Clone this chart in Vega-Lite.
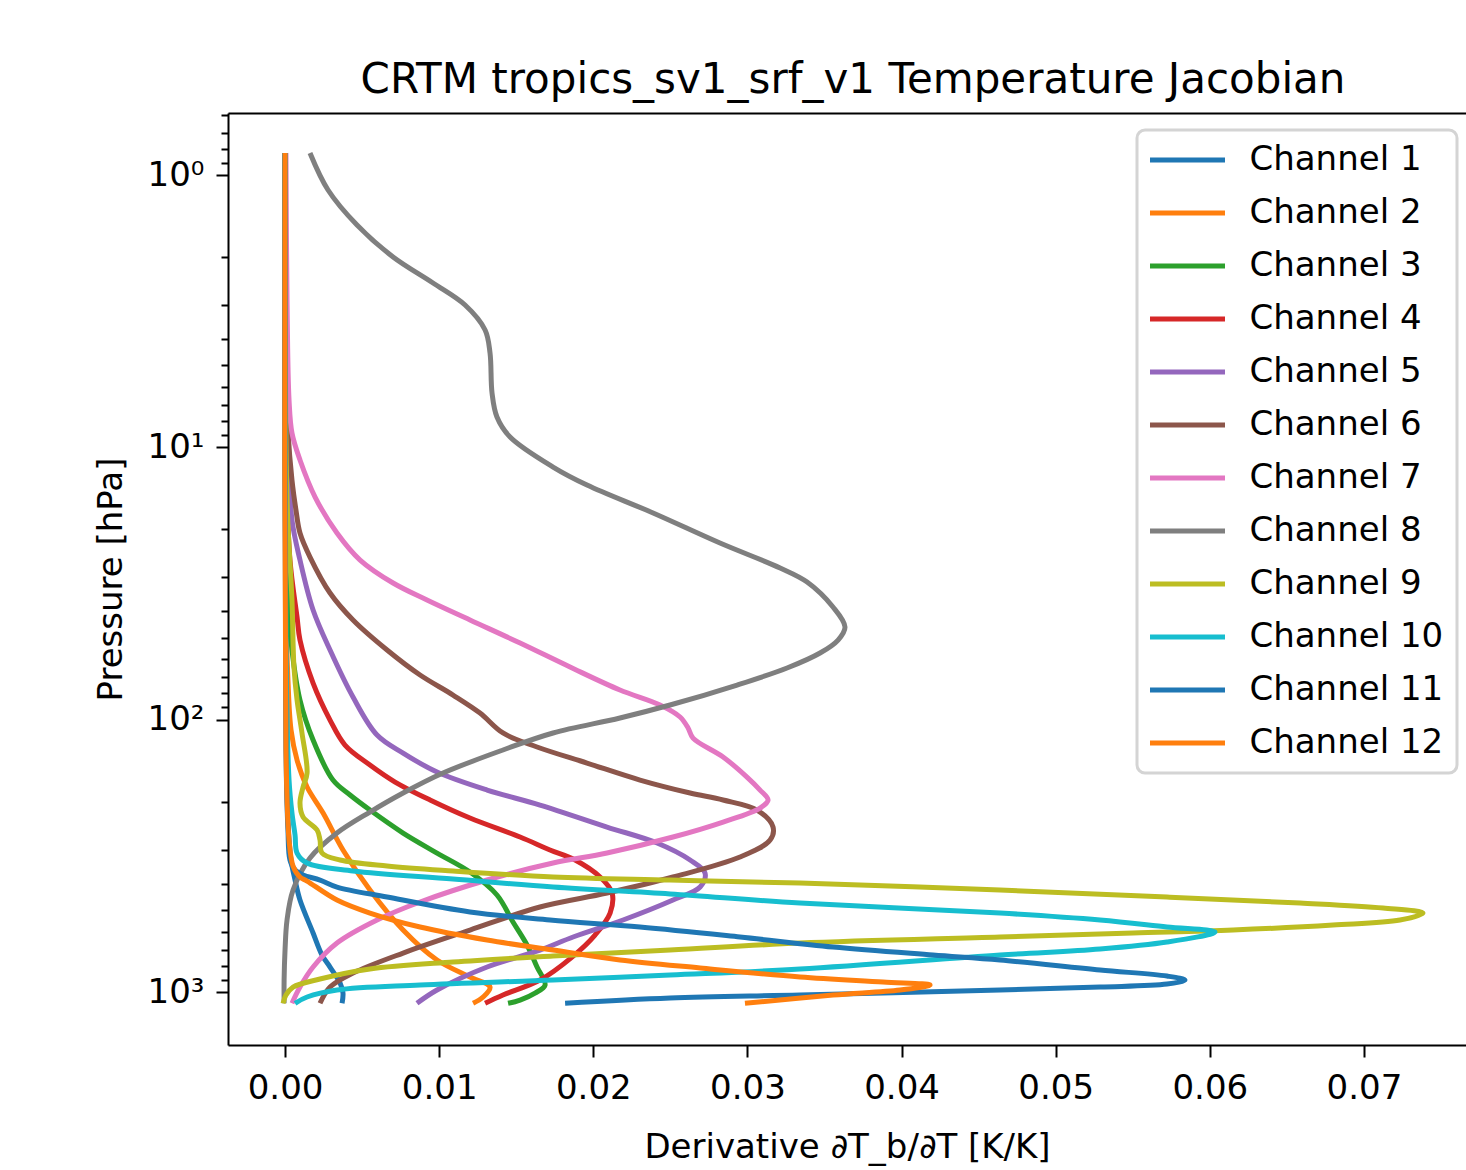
{
"$schema": "https://vega.github.io/schema/vega-lite/v6.json",
"width": 1238, "height": 932,
"autosize": "none",
"padding": {"left": 228, "top": 113, "right": 0, "bottom": 125},
"background": "white",
"title": {"text": "CRTM tropics_sv1_srf_v1 Temperature Jacobian", "fontSize": 42, "font": "DejaVu Sans", "fontWeight": "normal", "color": "black", "anchor": "middle", "dx": 6, "offset": -37, "baseline": "alphabetic"},
"data": {"values": [
{"c":"Channel 1","x":0,"p":0.83},{"c":"Channel 1","x":0.00006,"p":84.68},{"c":"Channel 1","x":0.00019,"p":233.6},{"c":"Channel 1","x":0.00039,"p":327.6},{"c":"Channel 1","x":0.00065,"p":387.9},{"c":"Channel 1","x":0.00097,"p":459.4},{"c":"Channel 1","x":0.00182,"p":607.2},{"c":"Channel 1","x":0.0024,"p":731.5},{"c":"Channel 1","x":0.00292,"p":809.5},{"c":"Channel 1","x":0.00357,"p":926.8},{"c":"Channel 1","x":0.00376,"p":1008.6},{"c":"Channel 1","x":0.0037,"p":1100},
{"c":"Channel 2","x":0,"p":0.83},{"c":"Channel 2","x":0.00006,"p":36.36},{"c":"Channel 2","x":0.00019,"p":71.51},{"c":"Channel 2","x":0.00039,"p":109.1},{"c":"Channel 2","x":0.00078,"p":140.7},{"c":"Channel 2","x":0.00143,"p":176.7},{"c":"Channel 2","x":0.00247,"p":220.2},{"c":"Channel 2","x":0.00376,"p":301.0},{"c":"Channel 2","x":0.00551,"p":422.1},{"c":"Channel 2","x":0.00766,"p":592.0},{"c":"Channel 2","x":0.00986,"p":763.0},{"c":"Channel 2","x":0.012,"p":880.9},{"c":"Channel 2","x":0.0133,"p":958.7},{"c":"Channel 2","x":0.01285,"p":1043.2},{"c":"Channel 2","x":0.0122,"p":1100},
{"c":"Channel 3","x":0,"p":0.83},{"c":"Channel 3","x":0.00006,"p":15.61},{"c":"Channel 3","x":0.00019,"p":36.36},{"c":"Channel 3","x":0.00045,"p":55.49},{"c":"Channel 3","x":0.00097,"p":84.68},{"c":"Channel 3","x":0.00182,"p":118.8},{"c":"Channel 3","x":0.00311,"p":166.6},{"c":"Channel 3","x":0.00422,"p":189.1},{"c":"Channel 3","x":0.00551,"p":214.7},{"c":"Channel 3","x":0.00766,"p":260.8},{"c":"Channel 3","x":0.00986,"p":308.8},{"c":"Channel 3","x":0.012,"p":362.6},{"c":"Channel 3","x":0.01375,"p":440.3},{"c":"Channel 3","x":0.01479,"p":553.3},{"c":"Channel 3","x":0.0157,"p":672.1},{"c":"Channel 3","x":0.01635,"p":809.5},{"c":"Channel 3","x":0.01687,"p":942.6},{"c":"Channel 3","x":0.01622,"p":1008.6},{"c":"Channel 3","x":0.01525,"p":1070},{"c":"Channel 3","x":0.01447,"p":1100},
{"c":"Channel 4","x":0,"p":0.83},{"c":"Channel 4","x":0.00006,"p":10.23},{"c":"Channel 4","x":0.00032,"p":25.93},{"c":"Channel 4","x":0.00078,"p":41.98},{"c":"Channel 4","x":0.00097,"p":50.99},{"c":"Channel 4","x":0.00182,"p":73.36},{"c":"Channel 4","x":0.00292,"p":100.3},{"c":"Channel 4","x":0.00389,"p":123.9},{"c":"Channel 4","x":0.00551,"p":146.7},{"c":"Channel 4","x":0.00714,"p":169.4},{"c":"Channel 4","x":0.00941,"p":197.2},{"c":"Channel 4","x":0.012,"p":229.7},{"c":"Channel 4","x":0.01525,"p":269.7},{"c":"Channel 4","x":0.01719,"p":301.0},{"c":"Channel 4","x":0.01882,"p":327.6},{"c":"Channel 4","x":0.02044,"p":378.2},{"c":"Channel 4","x":0.02122,"p":433.0},{"c":"Channel 4","x":0.02109,"p":512.8},{"c":"Channel 4","x":0.02011,"p":617.6},{"c":"Channel 4","x":0.01862,"p":744.0},{"c":"Channel 4","x":0.01654,"p":903.6},{"c":"Channel 4","x":0.01414,"p":1025.7},{"c":"Channel 4","x":0.01298,"p":1100},
{"c":"Channel 5","x":0,"p":0.83},{"c":"Channel 5","x":0.00006,"p":5.659},{"c":"Channel 5","x":0.00026,"p":11.13},{"c":"Channel 5","x":0.00045,"p":18.49},{"c":"Channel 5","x":0.00097,"p":25.93},{"c":"Channel 5","x":0.00182,"p":39.57},{"c":"Channel 5","x":0.00292,"p":55.49},{"c":"Channel 5","x":0.00441,"p":82.56},{"c":"Channel 5","x":0.00597,"p":113.8},{"c":"Channel 5","x":0.00766,"p":132.6},{"c":"Channel 5","x":0.00986,"p":155.7},{"c":"Channel 5","x":0.01311,"p":181.3},{"c":"Channel 5","x":0.01654,"p":205.8},{"c":"Channel 5","x":0.02089,"p":247.8},{"c":"Channel 5","x":0.02414,"p":283.8},{"c":"Channel 5","x":0.02628,"p":327.6},{"c":"Channel 5","x":0.02725,"p":365.6},{"c":"Channel 5","x":0.02693,"p":411.6},{"c":"Channel 5","x":0.02517,"p":459.4},{"c":"Channel 5","x":0.02193,"p":544.0},{"c":"Channel 5","x":0.01869,"p":628.1},{"c":"Channel 5","x":0.01654,"p":701.2},{"c":"Channel 5","x":0.01311,"p":809.5},{"c":"Channel 5","x":0.00986,"p":983.3},{"c":"Channel 5","x":0.00856,"p":1100},
{"c":"Channel 6","x":0,"p":0.83},{"c":"Channel 6","x":0.00006,"p":4.391},{"c":"Channel 6","x":0.00019,"p":8.637},{"c":"Channel 6","x":0.00045,"p":13.18},{"c":"Channel 6","x":0.00071,"p":16.99},{"c":"Channel 6","x":0.00097,"p":20.63},{"c":"Channel 6","x":0.00162,"p":25.28},{"c":"Channel 6","x":0.00292,"p":34.27},{"c":"Channel 6","x":0.00441,"p":43.05},{"c":"Channel 6","x":0.00662,"p":55.49},{"c":"Channel 6","x":0.00876,"p":68.55},{"c":"Channel 6","x":0.0109,"p":81.18},{"c":"Channel 6","x":0.01265,"p":94.53},{"c":"Channel 6","x":0.01414,"p":111.9},{"c":"Channel 6","x":0.01635,"p":126.0},{"c":"Channel 6","x":0.01959,"p":144.3},{"c":"Channel 6","x":0.02303,"p":166.6},{"c":"Channel 6","x":0.02628,"p":185.9},{"c":"Channel 6","x":0.02842,"p":197.2},{"c":"Channel 6","x":0.03062,"p":214.7},{"c":"Channel 6","x":0.03166,"p":247.8},{"c":"Channel 6","x":0.03147,"p":276.7},{"c":"Channel 6","x":0.02952,"p":319.4},{"c":"Channel 6","x":0.02517,"p":378.2},{"c":"Channel 6","x":0.02089,"p":433.0},{"c":"Channel 6","x":0.01654,"p":487.3},{"c":"Channel 6","x":0.012,"p":592.0},{"c":"Channel 6","x":0.00766,"p":719.2},{"c":"Channel 6","x":0.00441,"p":851.7},{"c":"Channel 6","x":0.00292,"p":958.7},{"c":"Channel 6","x":0.00227,"p":1100},
{"c":"Channel 7","x":0.00006,"p":0.83},{"c":"Channel 7","x":0.00013,"p":2.877},{"c":"Channel 7","x":0.00026,"p":6.702},{"c":"Channel 7","x":0.00045,"p":8.859},{"c":"Channel 7","x":0.00097,"p":11.13},{"c":"Channel 7","x":0.00195,"p":15.22},{"c":"Channel 7","x":0.00337,"p":20.63},{"c":"Channel 7","x":0.00487,"p":25.93},{"c":"Channel 7","x":0.00701,"p":31.49},{"c":"Channel 7","x":0.00921,"p":36.36},{"c":"Channel 7","x":0.012,"p":43.05},{"c":"Channel 7","x":0.01525,"p":52.3},{"c":"Channel 7","x":0.01849,"p":64.07},{"c":"Channel 7","x":0.02173,"p":77.82},{"c":"Channel 7","x":0.02433,"p":88.34},{"c":"Channel 7","x":0.02563,"p":97.77},{"c":"Channel 7","x":0.02615,"p":107.3},{"c":"Channel 7","x":0.02647,"p":116.8},{"c":"Channel 7","x":0.02842,"p":137.1},{"c":"Channel 7","x":0.02997,"p":162.4},{"c":"Channel 7","x":0.03082,"p":181.3},{"c":"Channel 7","x":0.03134,"p":197.2},{"c":"Channel 7","x":0.03082,"p":211.1},{"c":"Channel 7","x":0.02842,"p":237.6},{"c":"Channel 7","x":0.02517,"p":269.7},{"c":"Channel 7","x":0.02089,"p":308.8},{"c":"Channel 7","x":0.01739,"p":336.0},{"c":"Channel 7","x":0.01311,"p":387.9},{"c":"Channel 7","x":0.00876,"p":467.2},{"c":"Channel 7","x":0.00597,"p":544.0},{"c":"Channel 7","x":0.00337,"p":660.9},{"c":"Channel 7","x":0.00182,"p":809.5},{"c":"Channel 7","x":0.00097,"p":958.7},{"c":"Channel 7","x":0.00045,"p":1100},
{"c":"Channel 8","x":0.00162,"p":0.83},{"c":"Channel 8","x":0.00279,"p":1.135},{"c":"Channel 8","x":0.00467,"p":1.526},{"c":"Channel 8","x":0.00701,"p":2.0},{"c":"Channel 8","x":0.0096,"p":2.492},{"c":"Channel 8","x":0.01168,"p":3.002},{"c":"Channel 8","x":0.01298,"p":3.708},{"c":"Channel 8","x":0.0133,"p":4.504},{"c":"Channel 8","x":0.01343,"p":6.317},{"c":"Channel 8","x":0.01375,"p":7.738},{"c":"Channel 8","x":0.0146,"p":9.163},{"c":"Channel 8","x":0.01739,"p":11.81},{"c":"Channel 8","x":0.01959,"p":13.75},{"c":"Channel 8","x":0.02388,"p":17.42},{"c":"Channel 8","x":0.02822,"p":22.46},{"c":"Channel 8","x":0.03212,"p":27.74},{"c":"Channel 8","x":0.03387,"p":31.23},{"c":"Channel 8","x":0.03555,"p":38.57},{"c":"Channel 8","x":0.03633,"p":45.68},{"c":"Channel 8","x":0.03588,"p":50.99},{"c":"Channel 8","x":0.03471,"p":56.92},{"c":"Channel 8","x":0.03257,"p":64.61},{"c":"Channel 8","x":0.02933,"p":74.61},{"c":"Channel 8","x":0.02498,"p":88.34},{"c":"Channel 8","x":0.02173,"p":98.6},{"c":"Channel 8","x":0.01739,"p":111.9},{"c":"Channel 8","x":0.01414,"p":129.2},{"c":"Channel 8","x":0.01025,"p":157.0},{"c":"Channel 8","x":0.00766,"p":185.9},{"c":"Channel 8","x":0.00551,"p":218.3},{"c":"Channel 8","x":0.00337,"p":260.8},{"c":"Channel 8","x":0.00162,"p":322.1},{"c":"Channel 8","x":0.00052,"p":422.1},{"c":"Channel 8","x":0.00013,"p":544.0},{"c":"Channel 8","x":0,"p":701.2},{"c":"Channel 8","x":-0.00006,"p":903.6},{"c":"Channel 8","x":-0.00006,"p":1100},
{"c":"Channel 9","x":0,"p":0.83},{"c":"Channel 9","x":0.00013,"p":15.61},{"c":"Channel 9","x":0.00045,"p":36.36},{"c":"Channel 9","x":0.00058,"p":64.07},{"c":"Channel 9","x":0.00078,"p":84.68},{"c":"Channel 9","x":0.0011,"p":111.9},{"c":"Channel 9","x":0.00143,"p":157.0},{"c":"Channel 9","x":0.00117,"p":176.7},{"c":"Channel 9","x":0.00097,"p":202.3},{"c":"Channel 9","x":0.00117,"p":227.7},{"c":"Channel 9","x":0.00208,"p":254.2},{"c":"Channel 9","x":0.00227,"p":276.7},{"c":"Channel 9","x":0.0024,"p":308.8},{"c":"Channel 9","x":0.00357,"p":327.6},{"c":"Channel 9","x":0.00662,"p":344.6},{"c":"Channel 9","x":0.0109,"p":359.5},{"c":"Channel 9","x":0.01739,"p":378.2},{"c":"Channel 9","x":0.02498,"p":387.9},{"c":"Channel 9","x":0.03341,"p":397.9},{"c":"Channel 9","x":0.04639,"p":422.1},{"c":"Channel 9","x":0.05722,"p":447.9},{"c":"Channel 9","x":0.06585,"p":471.2},{"c":"Channel 9","x":0.07124,"p":491.5},{"c":"Channel 9","x":0.07383,"p":512.8},{"c":"Channel 9","x":0.07234,"p":544.0},{"c":"Channel 9","x":0.06799,"p":567.5},{"c":"Channel 9","x":0.06151,"p":592.0},{"c":"Channel 9","x":0.05502,"p":607.2},{"c":"Channel 9","x":0.04639,"p":628.1},{"c":"Channel 9","x":0.03341,"p":660.9},{"c":"Channel 9","x":0.02498,"p":701.2},{"c":"Channel 9","x":0.01739,"p":737.7},{"c":"Channel 9","x":0.0109,"p":776.0},{"c":"Channel 9","x":0.00551,"p":823.3},{"c":"Channel 9","x":0.00227,"p":896.0},{"c":"Channel 9","x":0.00052,"p":958.7},{"c":"Channel 9","x":0.00006,"p":1025.7},{"c":"Channel 9","x":-0.00013,"p":1100},
{"c":"Channel 10","x":0,"p":0.83},{"c":"Channel 10","x":0.00006,"p":55.49},{"c":"Channel 10","x":0.00026,"p":166.6},{"c":"Channel 10","x":0.00045,"p":220.2},{"c":"Channel 10","x":0.00065,"p":265.2},{"c":"Channel 10","x":0.00078,"p":308.8},{"c":"Channel 10","x":0.00143,"p":336.0},{"c":"Channel 10","x":0.00441,"p":359.5},{"c":"Channel 10","x":0.0109,"p":384.7},{"c":"Channel 10","x":0.01739,"p":411.6},{"c":"Channel 10","x":0.02498,"p":436.6},{"c":"Channel 10","x":0.03341,"p":471.2},{"c":"Channel 10","x":0.04639,"p":512.8},{"c":"Channel 10","x":0.05288,"p":544.0},{"c":"Channel 10","x":0.05722,"p":577.2},{"c":"Channel 10","x":0.06034,"p":602.2},{"c":"Channel 10","x":0.05722,"p":655.3},{"c":"Channel 10","x":0.05288,"p":695.3},{"c":"Channel 10","x":0.04639,"p":731.5},{"c":"Channel 10","x":0.03341,"p":823.3},{"c":"Channel 10","x":0.02498,"p":866.2},{"c":"Channel 10","x":0.01739,"p":903.6},{"c":"Channel 10","x":0.00876,"p":942.6},{"c":"Channel 10","x":0.00337,"p":983.3},{"c":"Channel 10","x":0.00143,"p":1043.2},{"c":"Channel 10","x":0.00065,"p":1100},
{"c":"Channel 11","x":0,"p":0.83},{"c":"Channel 11","x":0.00006,"p":129.2},{"c":"Channel 11","x":0.00019,"p":254.2},{"c":"Channel 11","x":0.00032,"p":327.6},{"c":"Channel 11","x":0.00065,"p":356.5},{"c":"Channel 11","x":0.00117,"p":371.9},{"c":"Channel 11","x":0.00227,"p":387.9},{"c":"Channel 11","x":0.00337,"p":411.6},{"c":"Channel 11","x":0.00662,"p":447.9},{"c":"Channel 11","x":0.012,"p":508.4},{"c":"Channel 11","x":0.01719,"p":544.0},{"c":"Channel 11","x":0.02303,"p":577.2},{"c":"Channel 11","x":0.02952,"p":628.1},{"c":"Channel 11","x":0.03555,"p":683.6},{"c":"Channel 11","x":0.04204,"p":731.5},{"c":"Channel 11","x":0.04639,"p":763.0},{"c":"Channel 11","x":0.05288,"p":830.3},{"c":"Channel 11","x":0.05722,"p":873.6},{"c":"Channel 11","x":0.05839,"p":903.6},{"c":"Channel 11","x":0.05722,"p":934.7},{"c":"Channel 11","x":0.05288,"p":958.7},{"c":"Channel 11","x":0.04639,"p":983.3},{"c":"Channel 11","x":0.03341,"p":1025.7},{"c":"Channel 11","x":0.02498,"p":1052.1},{"c":"Channel 11","x":0.01817,"p":1100},
{"c":"Channel 12","x":0,"p":0.83},{"c":"Channel 12","x":0.00006,"p":129.2},{"c":"Channel 12","x":0.00026,"p":276.7},{"c":"Channel 12","x":0.00052,"p":344.6},{"c":"Channel 12","x":0.00097,"p":378.2},{"c":"Channel 12","x":0.00143,"p":391.2},{"c":"Channel 12","x":0.00337,"p":459.4},{"c":"Channel 12","x":0.00551,"p":512.8},{"c":"Channel 12","x":0.00876,"p":577.2},{"c":"Channel 12","x":0.01311,"p":644.3},{"c":"Channel 12","x":0.01739,"p":701.2},{"c":"Channel 12","x":0.02173,"p":763.0},{"c":"Channel 12","x":0.02693,"p":816.4},{"c":"Channel 12","x":0.03341,"p":880.9},{"c":"Channel 12","x":0.0388,"p":919.0},{"c":"Channel 12","x":0.04185,"p":942.6},{"c":"Channel 12","x":0.0399,"p":983.3},{"c":"Channel 12","x":0.03555,"p":1025.7},{"c":"Channel 12","x":0.02984,"p":1100}
]},
"encoding": {
  "y": {"field": "p", "type": "quantitative",
    "scale": {"type": "log", "domain": [0.592, 1565], "reverse": true, "nice": false, "zero": false},
    "axis": {"title": "Pressure [hPa]", "titleFont": "DejaVu Sans", "titleFontSize": 34, "titleFontWeight": "normal", "titleColor": "black", "titlePadding": 19,
      "values": [0.6,0.7,0.8,0.9,1,2,3,4,5,6,7,8,9,10,20,30,40,50,60,70,80,90,100,200,300,400,500,600,700,800,900,1000],
      "labelExpr": "datum.value == 1 ? '10⁰' : datum.value == 10 ? '10¹' : datum.value == 100 ? '10²' : datum.value == 1000 ? '10³' : ''",
      "labelFont": "DejaVu Sans", "labelFontSize": 34, "labelColor": "black", "labelPadding": 12, "labelOverlap": false, "labelBound": false, "labelFlush": false,
      "tickSize": {"condition": {"test": "indexof([1,10,100,1000], datum.value) >= 0", "value": 12}, "value": 7},
      "tickColor": "black", "tickWidth": 2, "domainColor": "black", "domainWidth": 2, "grid": false}
  }
},
"layer": [
  {
    "mark": {"type": "line", "strokeWidth": 5, "clip": true, "interpolate": "catmull-rom"},
    "encoding": {
      "x": {"field": "x", "type": "quantitative",
        "scale": {"domain": [-0.0037, 0.07662], "nice": false, "zero": false},
        "axis": {"title": "Derivative ∂T_b/∂T [K/K]", "titleFont": "DejaVu Sans", "titleFontSize": 34, "titleFontWeight": "normal", "titleColor": "black", "titlePadding": 25,
          "values": [0, 0.01, 0.02, 0.03, 0.04, 0.05, 0.06, 0.07], "format": ".2f",
          "labelFont": "DejaVu Sans", "labelFontSize": 34, "labelColor": "black", "labelPadding": 14, "labelFlush": false, "labelOverlap": false,
          "tickSize": 12, "tickColor": "black", "tickWidth": 2, "domainColor": "black", "domainWidth": 2, "grid": false}
      },
      "color": {"field": "c", "type": "nominal",
        "scale": {"domain": ["Channel 1","Channel 2","Channel 3","Channel 4","Channel 5","Channel 6","Channel 7","Channel 8","Channel 9","Channel 10","Channel 11","Channel 12"],
          "range": ["#1f77b4","#ff7f0e","#2ca02c","#d62728","#9467bd","#8c564b","#e377c2","#7f7f7f","#bcbd22","#17becf","#1f77b4","#ff7f0e"]},
        "legend": {"orient": "none", "legendX": 909, "legendY": 17, "title": null,
          "symbolType": "M-3,0H3", "symbolSize": 625, "symbolStrokeWidth": 5, "symbolOffset": 20.5,
          "labelOffset": 45, "labelFont": "DejaVu Sans", "labelFontSize": 34, "labelColor": "black", "labelLimit": 0,
          "rowPadding": 19, "padding": 13, "strokeColor": "#d4d4d4", "fillColor": "rgba(255,255,255,0.8)", "cornerRadius": 8}
      },
      "order": {"field": "p", "type": "quantitative"}
    }
  },
  {
    "mark": {"type": "line", "opacity": 0},
    "encoding": {
      "x": {"field": "x", "type": "quantitative",
        "scale": {"domain": [-0.0037, 0.07662], "nice": false, "zero": false},
        "axis": {"orient": "top", "labels": false, "ticks": false, "title": null, "domain": true, "domainColor": "black", "domainWidth": 2, "grid": false}
      }
    }
  }
],
"resolve": {"axis": {"x": "independent"}},
"config": {"view": {"stroke": null}, "font": "DejaVu Sans", "legend": {"strokeWidth": 3}}
}
